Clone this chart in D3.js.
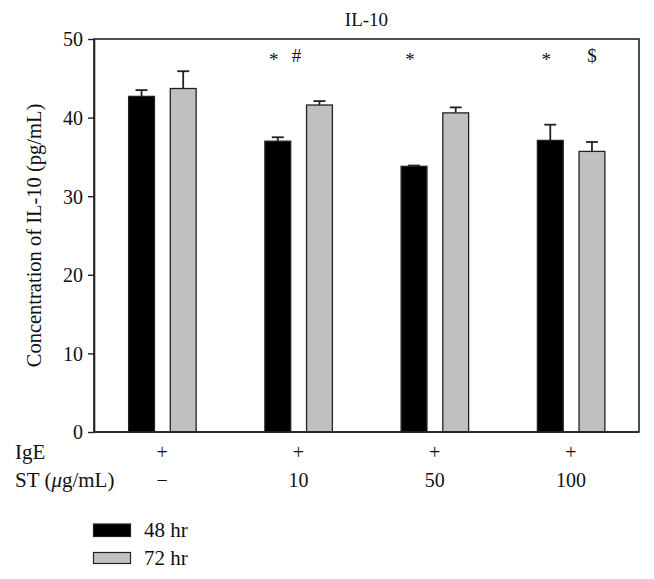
<!DOCTYPE html>
<html>
<head>
<meta charset="utf-8">
<script src="https://cdn.jsdelivr.net/npm/d3@7"></script>
<style>
  body { margin: 0; background: #fff; }
  text { font-family: "Liberation Serif", "DejaVu Serif", serif; fill: #111; }
</style>
</head>
<body>
<div id="chart"></div>
<script>
// Data
const groups = ["g1", "g2", "g3", "g4"];
const igeRow = ["+", "+", "+", "+"];
const stRow = ["\u2212", "10", "50", "100"];
const series = ["48 hr", "72 hr"];
const mean48 = [42.7, 37.0, 33.8, 37.1];
const err48 = [0.8, 0.5, 0.1, 2.0];
const mean72 = [43.7, 41.6, 40.6, 35.7];
const err72 = [2.2, 0.5, 0.7, 1.2];
const mark48 = ["", "*", "*", "*"];
const mark72 = ["", "#", "", "$"];
const yTicks = [0, 10, 20, 30, 40, 50];
const colors = ["#000000", "#c0c0c0"];

// Set dimensions and margins
const W = 654, H = 579;
const margin = { top: 39, right: 15, bottom: 147, left: 94 };
const width = W - margin.left - margin.right;
const height = H - margin.top - margin.bottom;

const svg = d3.select("#chart").append("svg")
  .attr("width", W)
  .attr("height", H);

const g = svg.append("g")
  .attr("transform", `translate(${margin.left},${margin.top})`);

// Scales
const x = d3.scaleBand().domain(groups).range([0, width]).padding(0);
const xSub = d3.scaleBand().domain(series).range([-33.5, 34]).paddingInner(0.38);
const y = d3.scaleLinear().domain([0, 50]).range([height, 0]);

// Build rows for bars
const rows = [];
groups.forEach((grp, i) => {
  rows.push({ grp, s: series[0], v: mean48[i], e: err48[i], m: mark48[i], c: colors[0] });
  rows.push({ grp, s: series[1], v: mean72[i], e: err72[i], m: mark72[i], c: colors[1] });
});
const cx = d => x(d.grp) + x.bandwidth() / 2 + xSub(d.s);

// Error bars (drawn behind bars)
g.selectAll(".err")
  .data(rows)
  .join("line")
  .attr("x1", d => cx(d) + xSub.bandwidth() / 2)
  .attr("x2", d => cx(d) + xSub.bandwidth() / 2)
  .attr("y1", d => y(d.v))
  .attr("y2", d => y(d.v + d.e))
  .attr("stroke", "#222")
  .attr("stroke-width", 1.8);

g.selectAll(".cap")
  .data(rows)
  .join("line")
  .attr("x1", d => cx(d) + xSub.bandwidth() / 2 - 6)
  .attr("x2", d => cx(d) + xSub.bandwidth() / 2 + 6)
  .attr("y1", d => y(d.v + d.e))
  .attr("y2", d => y(d.v + d.e))
  .attr("stroke", "#222")
  .attr("stroke-width", 1.8);

// Bars
g.selectAll(".bar")
  .data(rows)
  .join("rect")
  .attr("x", d => cx(d))
  .attr("y", d => y(d.v))
  .attr("width", xSub.bandwidth())
  .attr("height", d => y(0) - y(d.v))
  .attr("fill", d => d.c)
  .attr("stroke", "#222")
  .attr("stroke-width", 1.3);

// Frame (top and right)
g.append("rect")
  .attr("x", 0).attr("y", 0)
  .attr("width", width).attr("height", height)
  .attr("fill", "none")
  .attr("stroke", "#222")
  .attr("stroke-width", 1.6);

// Y axis
const yAxis = g.append("g")
  .call(d3.axisLeft(y).tickValues(yTicks).tickSize(6).tickPadding(5).tickSizeOuter(0));
yAxis.select(".domain").attr("stroke", "#222").attr("stroke-width", 1.6);
yAxis.selectAll(".tick line").attr("stroke", "#222").attr("stroke-width", 1.4);
yAxis.selectAll(".tick text")
  .style("font-family", "'Liberation Serif', serif")
  .style("font-size", "20px")
  .attr("fill", "#111")
  .attr("dy", "0.34em");

// X axis baseline
g.append("line")
  .attr("x1", 0).attr("x2", width)
  .attr("y1", y(0)).attr("y2", y(0))
  .attr("stroke", "#222")
  .attr("stroke-width", 1.6);

// Significance marks
g.selectAll(".mark")
  .data(rows.filter(d => d.m))
  .join("text")
  .attr("x", d => {
    const c = cx(d) + xSub.bandwidth() / 2;
    if (d.m === "#") return c - 23;
    if (d.m === "*") return c - 4;
    return c;
  })
  .attr("y", d => d.m === "*" ? 27 : 23)
  .attr("text-anchor", "middle")
  .style("font-size", "19px")
  .text(d => d.m);

// Title
g.append("text")
  .attr("x", width / 2)
  .attr("y", -13)
  .attr("text-anchor", "middle")
  .style("font-size", "19px")
  .text("IL-10");

// Y label
g.append("text")
  .attr("transform", "rotate(-90)")
  .attr("x", -height / 2)
  .attr("y", -53)
  .attr("text-anchor", "middle")
  .style("font-size", "20.5px")
  .text("Concentration of IL-10 (pg/mL)");

// Treatment rows under axis
g.selectAll(".ige")
  .data(groups)
  .join("text")
  .attr("x", d => x(d) + x.bandwidth() / 2)
  .attr("y", height + 27)
  .attr("text-anchor", "middle")
  .style("font-size", "20px")
  .text((d, i) => igeRow[i]);

g.selectAll(".st")
  .data(groups)
  .join("text")
  .attr("x", d => x(d) + x.bandwidth() / 2)
  .attr("y", height + 55)
  .attr("text-anchor", "middle")
  .style("font-size", "20px")
  .text((d, i) => stRow[i]);

svg.append("text")
  .attr("x", 15)
  .attr("y", 459)
  .style("font-size", "21px")
  .text("IgE");

const stLabel = svg.append("text")
  .attr("x", 15)
  .attr("y", 487)
  .style("font-size", "21px");
stLabel.append("tspan").text("ST (");
stLabel.append("tspan").style("font-style", "italic").text("\u03bc");
stLabel.append("tspan").text("g/mL)");

// Legend
const legend = svg.append("g").attr("transform", "translate(93,524)");
series.forEach((s, i) => {
  legend.append("rect")
    .attr("x", 0.5)
    .attr("y", i * 28.5)
    .attr("width", 37)
    .attr("height", i === 0 ? 12.5 : 11)
    .attr("fill", colors[i])
    .attr("stroke", "#222")
    .attr("stroke-width", 1.2);
  legend.append("text")
    .attr("x", 51)
    .attr("y", 12.5 + i * 28.5)
    .style("font-size", "21px")
    .text(s);
});
</script>
</body>
</html>
